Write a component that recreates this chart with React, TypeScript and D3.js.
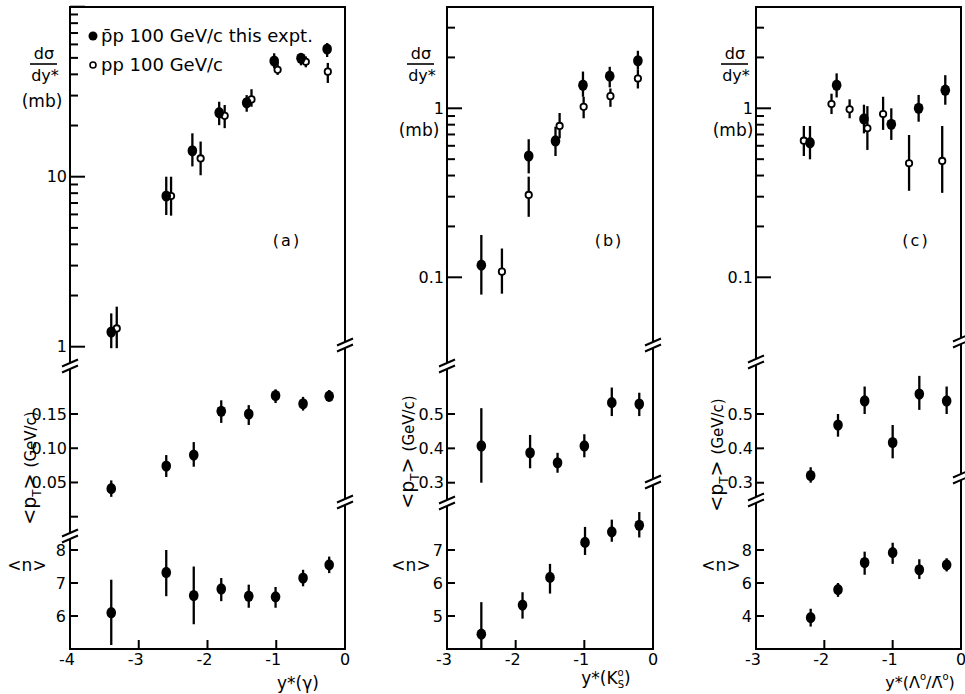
import React from "react";
import * as d3 from "d3";

// ---------------- data ----------------
// Panel (a): gamma
const aDsigFilledX = [-3.4, -2.6, -2.22, -1.83, -1.43, -1.03, -0.64, -0.26];
const aDsigFilledY = [1.22, 7.7, 14.2, 23.8, 27.2, 47.9, 49.7, 56.4];
const aDsigFilledLo = [0.98, 5.95, 11.5, 20.1, 24.1, 43.4, 45.2, 50.6];
const aDsigFilledHi = [1.57, 10.0, 18.0, 27.6, 30.2, 53.2, 53.2, 61.1];
const aDsigOpenX = [-3.32, -2.53, -2.1, -1.75, -1.36, -0.98, -0.57, -0.25];
const aDsigOpenY = [1.28, 7.7, 12.8, 22.8, 28.5, 42.5, 47.4, 41.5];
const aDsigOpenLo = [0.98, 5.9, 10.2, 19.3, 25.8, 39.7, 44.0, 35.6];
const aDsigOpenHi = [1.72, 10.0, 16.1, 26.4, 32.7, 47.4, 51.0, 46.7];
const aPtX = [-3.4, -2.6, -2.2, -1.8, -1.4, -1.01, -0.61, -0.23];
const aPtY = [0.041, 0.074, 0.09, 0.154, 0.15, 0.177, 0.165, 0.176];
const aPtLo = [0.029, 0.058, 0.073, 0.137, 0.134, 0.166, 0.155, 0.168];
const aPtHi = [0.053, 0.09, 0.109, 0.17, 0.163, 0.186, 0.175, 0.185];
const aNY = [6.1, 7.32, 6.62, 6.82, 6.6, 6.58, 7.15, 7.55];
const aNLo = [5.12, 6.6, 5.75, 6.45, 6.25, 6.25, 6.9, 7.3];
const aNHi = [7.1, 8.0, 7.5, 7.15, 6.95, 6.88, 7.4, 7.8];

// Panel (b): K0s
const bDsigFilledX = [-2.5, -1.81, -1.42, -1.02, -0.63, -0.22];
const bDsigFilledY = [0.118, 0.522, 0.641, 1.37, 1.55, 1.91];
const bDsigFilledLo = [0.079, 0.412, 0.522, 1.17, 1.33, 1.69];
const bDsigFilledHi = [0.178, 0.656, 0.778, 1.65, 1.76, 2.19];
const bDsigOpenX = [-2.2, -1.81, -1.36, -1.01, -0.62, -0.22];
const bDsigOpenY = [0.108, 0.307, 0.786, 1.02, 1.18, 1.5];
const bDsigOpenLo = [0.08, 0.228, 0.664, 0.873, 1.02, 1.31];
const bDsigOpenHi = [0.148, 0.394, 0.938, 1.17, 1.31, 1.69];
const bPtX = [-2.5, -1.79, -1.39, -1.0, -0.6, -0.2];
const bPtY = [0.407, 0.387, 0.358, 0.407, 0.533, 0.529];
const bPtLo = [0.3, 0.342, 0.329, 0.374, 0.494, 0.494];
const bPtHi = [0.517, 0.439, 0.387, 0.441, 0.577, 0.562];
const bNX = [-2.5, -1.9, -1.5, -0.99, -0.6, -0.2];
const bNY = [4.45, 5.33, 6.17, 7.23, 7.55, 7.75];
const bNLo = [4.02, 4.92, 5.68, 6.85, 7.25, 7.38];
const bNHi = [5.42, 5.72, 6.58, 7.7, 7.92, 8.15];

// Panel (c): Lambda / anti-Lambda
const cDsigFilledX = [-2.21, -1.82, -1.42, -1.02, -0.62, -0.23];
const cDsigFilledY = [0.626, 1.37, 0.865, 0.804, 1.0, 1.28];
const cDsigFilledLo = [0.499, 1.16, 0.711, 0.65, 0.833, 1.05];
const cDsigFilledHi = [0.786, 1.61, 1.05, 1.0, 1.2, 1.57];
const cDsigOpenX = [-2.3, -1.895, -1.63, -1.37, -1.14, -0.76, -0.275];
const cDsigOpenY = [0.643, 1.06, 0.986, 0.762, 0.925, 0.473, 0.488];
const cDsigOpenLo = [0.522, 0.925, 0.873, 0.567, 0.745, 0.325, 0.316];
const cDsigOpenHi = [0.786, 1.22, 1.13, 1.03, 1.17, 0.695, 0.786];
const cPtX = [-2.2, -1.8, -1.41, -1.0, -0.61, -0.21];
const cPtY = [0.321, 0.468, 0.538, 0.417, 0.558, 0.538];
const cPtLo = [0.3, 0.434, 0.5, 0.371, 0.512, 0.5];
const cPtHi = [0.345, 0.5, 0.58, 0.468, 0.611, 0.58];
const cNY = [3.9, 5.6, 7.24, 7.84, 6.8, 7.1];
const cNLo = [3.36, 5.16, 6.5, 7.16, 6.24, 6.7];
const cNHi = [4.44, 6.0, 7.9, 8.44, 7.44, 7.5];

// tick values
const aXTicks = [-4, -3, -2, -1, 0];
const bcXTicks = [-3, -2, -1, 0];
const aLogMajor = [1, 10, 100];
const aLogLabels = ["1", "10", ""];
const bcLogMajor = [0.1, 1];
const bcLogLabels = ["0.1", "1"];
const aPtTicks = [0, 0.05, 0.1, 0.15];
const aPtLabels = ["", "0.05", "0.10", "0.15"];
const bcPtTicks = [0.3, 0.4, 0.5];
const bcPtLabels = ["0.3", "0.4", "0.5"];
const aNTicks = [6, 7, 8];
const bNTicks = [5, 6, 7];
const cNTicks = [4, 6, 8];

// ---------------- layout ----------------
const FONT = "'DejaVu Sans', 'Liberation Sans', sans-serif";
const TOP = 7;
const BOTTOM = 649;

type Pts = { x: number[]; y: number[]; lo: number[]; hi: number[] };
const pts = (x: number[], y: number[], lo: number[], hi: number[]): Pts => ({ x, y, lo, hi });

function Marks({ p, sx, sy, open }: { p: Pts; sx: any; sy: any; open: boolean }) {
  return (
    <g>
      {p.x.map((xv, i) => {
        const cx = sx(xv);
        const cy = sy(p.y[i]);
        return (
          <g key={i}>
            <line x1={cx} x2={cx} y1={sy(p.lo[i])} y2={sy(p.hi[i])} stroke="#000" strokeWidth={2.3} />
            {open ? (
              <circle cx={cx} cy={cy} r={3.2} fill="#fff" stroke="#000" strokeWidth={1.8} />
            ) : (
              <ellipse cx={cx} cy={cy} rx={4.8} ry={5.6} fill="#000" />
            )}
          </g>
        );
      })}
    </g>
  );
}

function BreakMark({ x, y }: { x: number; y: number }) {
  return (
    <g stroke="#000" strokeWidth={2}>
      <line x1={x - 8} y1={y + 0.5} x2={x + 8} y2={y - 6.5} />
      <line x1={x - 8} y1={y + 6.5} x2={x + 8} y2={y - 0.5} />
    </g>
  );
}

function VAxis({ x, breaks }: { x: number; breaks: number[] }) {
  const ys = [TOP, ...breaks.flatMap((b) => [b - 3, b + 3]), BOTTOM];
  const segs: number[][] = [];
  for (let i = 0; i < ys.length; i += 2) segs.push([ys[i], ys[i + 1]]);
  return (
    <g>
      {segs.map((s, i) => (
        <line key={i} x1={x} x2={x} y1={s[0]} y2={s[1]} stroke="#000" strokeWidth={2} />
      ))}
      {breaks.map((b, i) => (
        <BreakMark key={"b" + i} x={x} y={b} />
      ))}
    </g>
  );
}

function DsigLabel({ cx, mbY }: { cx: number; mbY: number }) {
  return (
    <g fontFamily={FONT} fill="#000">
      <text x={cx} y={59} textAnchor="middle" fontSize={16}>dσ</text>
      <line x1={cx - 14} x2={cx + 13} y1={64} y2={64} stroke="#000" strokeWidth={1.6} />
      <text x={cx + 1} y={81} textAnchor="middle" fontSize={16}>dy*</text>
      <text x={cx - 2} y={mbY} textAnchor="middle" fontSize={17}>(mb)</text>
    </g>
  );
}

interface PanelCfg {
  x0: number;
  x1: number;
  xDomain: number[];
  xTicks: number[];
  logDomain: number[];
  logRange: number[];
  logMajor: number[];
  logLabels: string[];
  logMinor: number[];
  ptDomain: number[];
  ptRange: number[];
  ptTicks: number[];
  ptLabels: string[];
  nDomain: number[];
  nRange: number[];
  nTicks: number[];
  leftBreaks: number[];
  rightBreaks: number[];
  dsigFilled: Pts;
  dsigOpen: Pts;
  pt: Pts;
  n: Pts;
  dsigX: number;
  mbY: number;
  ptLabelX: number;
  ptLabelY: number;
  nLabelX: number;
  tag: string;
  tagX: number;
  title: React.ReactNode;
  titleX: number;
  titleY: number;
  titleSize: number;
}

function Panel({ c }: { c: PanelCfg }) {
  const sx = d3.scaleLinear().domain(c.xDomain).range([c.x0, c.x1]);
  const yl = d3.scaleLog().domain(c.logDomain).range(c.logRange);
  const yp = d3.scaleLinear().domain(c.ptDomain).range(c.ptRange);
  const yn = d3.scaleLinear().domain(c.nDomain).range(c.nRange);
  return (
    <g>
      {/* frame */}
      <line x1={c.x0 - 1} x2={c.x1 + 1} y1={TOP} y2={TOP} stroke="#000" strokeWidth={2} />
      <line x1={c.x0 - 1} x2={c.x1 + 1} y1={BOTTOM} y2={BOTTOM} stroke="#000" strokeWidth={2} />
      <VAxis x={c.x0} breaks={c.leftBreaks} />
      <VAxis x={c.x1} breaks={c.rightBreaks} />

      {/* x ticks */}
      {c.xTicks.map((t) => (
        <g key={"xt" + t}>
          {t !== c.xDomain[0] && t !== c.xDomain[1] && (
            <line x1={sx(t)} x2={sx(t)} y1={BOTTOM} y2={BOTTOM - 9} stroke="#000" strokeWidth={2} />
          )}
          <text x={sx(t) - (t < 0 ? 3 : 0)} y={665} textAnchor="middle" fontFamily={FONT} fontSize={16}>
            {t < 0 ? "-" + Math.abs(t) : String(t)}
          </text>
        </g>
      ))}

      {/* log section ticks */}
      {c.logMajor.map((t, i) => (
        <g key={"lm" + t}>
          <line x1={c.x0} x2={c.x0 + 15} y1={yl(t)} y2={yl(t)} stroke="#000" strokeWidth={2} />
          {c.logLabels[i] && (
            <text x={c.x0 - 3} y={yl(t)} dy="0.36em" textAnchor="end" fontFamily={FONT} fontSize={16}>
              {c.logLabels[i]}
            </text>
          )}
        </g>
      ))}
      {c.logMinor.map((t) => (
        <line key={"ln" + t} x1={c.x0} x2={c.x0 + 8} y1={yl(t)} y2={yl(t)} stroke="#000" strokeWidth={2} />
      ))}

      {/* pT section ticks */}
      {c.ptTicks.map((t, i) => (
        <g key={"pt" + t}>
          <line x1={c.x0} x2={c.x0 + 8} y1={yp(t)} y2={yp(t)} stroke="#000" strokeWidth={2} />
          {c.ptLabels[i] && (
            <text x={c.x0 - 3} y={yp(t)} dy="0.36em" textAnchor="end" fontFamily={FONT} fontSize={16}>
              {c.ptLabels[i]}
            </text>
          )}
        </g>
      ))}

      {/* n section ticks */}
      {c.nTicks.map((t) => (
        <g key={"nt" + t}>
          <line x1={c.x0} x2={c.x0 + 8} y1={yn(t)} y2={yn(t)} stroke="#000" strokeWidth={2} />
          <text x={c.x0 - 4} y={yn(t)} dy="0.36em" textAnchor="end" fontFamily={FONT} fontSize={16}>
            {t}
          </text>
        </g>
      ))}

      {/* data */}
      <Marks p={c.dsigOpen} sx={sx} sy={yl} open={true} />
      <Marks p={c.dsigFilled} sx={sx} sy={yl} open={false} />
      <Marks p={c.pt} sx={sx} sy={yp} open={false} />
      <Marks p={c.n} sx={sx} sy={yn} open={false} />

      {/* labels */}
      <DsigLabel cx={c.dsigX} mbY={c.mbY} />
      <text
        transform={`translate(${c.ptLabelX},${c.ptLabelY}) rotate(-90)`}
        textAnchor="middle"
        fontFamily={FONT}
        fontSize={19}
      >
        {"<p"}
        <tspan fontSize={12} dy={5}>T</tspan>
        <tspan dy={-5}>{"> "}</tspan>
        <tspan fontSize={15}>(GeV/c)</tspan>
      </text>
      <text x={c.nLabelX} y={571} textAnchor="middle" fontFamily={FONT} fontSize={17}>
        {"<n>"}
      </text>
      <text x={c.tagX} y={246} textAnchor="middle" fontFamily={FONT} fontSize={16} letterSpacing={2}>
        {c.tag}
      </text>
      <text x={c.titleX} y={c.titleY} textAnchor="middle" fontFamily={FONT} fontSize={c.titleSize}>
        {c.title}
      </text>
    </g>
  );
}

const minorDecade = (base: number) => d3.range(2, 10).map((k) => k * base);

const panelA: PanelCfg = {
  x0: 70,
  x1: 345,
  xDomain: [-4, 0],
  xTicks: aXTicks,
  logDomain: [1, 10],
  logRange: [346.7, 176.7],
  logMajor: aLogMajor,
  logLabels: aLogLabels,
  logMinor: [...minorDecade(1), ...minorDecade(10)],
  ptDomain: [0, 0.15],
  ptRange: [516.7, 414],
  ptTicks: aPtTicks,
  ptLabels: aPtLabels,
  nDomain: [5, 8],
  nRange: [649, 550],
  nTicks: aNTicks,
  leftBreaks: [366, 536],
  rightBreaks: [345, 502],
  dsigFilled: pts(aDsigFilledX, aDsigFilledY, aDsigFilledLo, aDsigFilledHi),
  dsigOpen: pts(aDsigOpenX, aDsigOpenY, aDsigOpenLo, aDsigOpenHi),
  pt: pts(aPtX, aPtY, aPtLo, aPtHi),
  n: pts(aPtX, aNY, aNLo, aNHi),
  dsigX: 44,
  mbY: 107,
  ptLabelX: 36,
  ptLabelY: 468,
  nLabelX: 27,
  tag: "(a)",
  tagX: 287,
  title: <>{"y*(γ)"}</>,
  titleX: 298,
  titleY: 689,
  titleSize: 17,
};

const panelB: PanelCfg = {
  x0: 447,
  x1: 653,
  xDomain: [-3, 0],
  xTicks: bcXTicks,
  logDomain: [0.1, 1],
  logRange: [277.3, 108.3],
  logMajor: bcLogMajor,
  logLabels: bcLogLabels,
  logMinor: [...minorDecade(0.1), 2, 3],
  ptDomain: [0.3, 0.5],
  ptRange: [482.7, 414],
  ptTicks: bcPtTicks,
  ptLabels: bcPtLabels,
  nDomain: [4, 7],
  nRange: [649, 550],
  nTicks: bNTicks,
  leftBreaks: [366, 503],
  rightBreaks: [345, 482],
  dsigFilled: pts(bDsigFilledX, bDsigFilledY, bDsigFilledLo, bDsigFilledHi),
  dsigOpen: pts(bDsigOpenX, bDsigOpenY, bDsigOpenLo, bDsigOpenHi),
  pt: pts(bPtX, bPtY, bPtLo, bPtHi),
  n: pts(bNX, bNY, bNLo, bNHi),
  dsigX: 421,
  mbY: 136,
  ptLabelX: 414,
  ptLabelY: 452,
  nLabelX: 411,
  tag: "(b)",
  tagX: 609,
  title: (
    <>
      {"y*(K"}
      <tspan fontSize={10} dy={-8}>o</tspan>
      <tspan fontSize={10} dx={-6} dy={12}>S</tspan>
      <tspan dy={-4}>)</tspan>
    </>
  ),
  titleX: 606,
  titleY: 684,
  titleSize: 17,
};

const panelC: PanelCfg = {
  x0: 756,
  x1: 961,
  xDomain: [-3, 0],
  xTicks: bcXTicks,
  logDomain: [0.1, 1],
  logRange: [277.3, 108.3],
  logMajor: bcLogMajor,
  logLabels: bcLogLabels,
  logMinor: [...minorDecade(0.1), 2, 3],
  ptDomain: [0.3, 0.5],
  ptRange: [482.7, 414],
  ptTicks: bcPtTicks,
  ptLabels: bcPtLabels,
  nDomain: [2, 8],
  nRange: [649, 550],
  nTicks: cNTicks,
  leftBreaks: [362, 500],
  rightBreaks: [341, 477],
  dsigFilled: pts(cDsigFilledX, cDsigFilledY, cDsigFilledLo, cDsigFilledHi),
  dsigOpen: pts(cDsigOpenX, cDsigOpenY, cDsigOpenLo, cDsigOpenHi),
  pt: pts(cPtX, cPtY, cPtLo, cPtHi),
  n: pts(cPtX, cNY, cNLo, cNHi),
  dsigX: 735,
  mbY: 136,
  ptLabelX: 723,
  ptLabelY: 455,
  nLabelX: 721,
  tag: "(c)",
  tagX: 916,
  title: (
    <>
      {"y*(Λ"}
      <tspan fontSize={10} dy={-8}>o</tspan>
      <tspan dy={8}>{"/Λ̄"}</tspan>
      <tspan fontSize={10} dy={-8}>o</tspan>
      <tspan dy={8}>)</tspan>
    </>
  ),
  titleX: 920,
  titleY: 688,
  titleSize: 16,
};

export default function App() {
  return (
    <svg
      width={965}
      height={694}
      style={{ position: "absolute", left: 0, top: 0, background: "#fff" }}
      fontFamily={FONT}
    >
      <rect x={0} y={0} width={965} height={694} fill="#fff" />
      <Panel c={panelA} />
      <Panel c={panelB} />
      <Panel c={panelC} />
      {/* legend */}
      <g fontFamily={FONT} fontSize={18}>
        <circle cx={93} cy={36} r={4.5} fill="#000" />
        <text x={101} y={42}>p̄p 100 GeV/c this expt.</text>
        <circle cx={93} cy={65} r={3} fill="#fff" stroke="#000" strokeWidth={1.6} />
        <text x={101} y={71}>pp 100 GeV/c</text>
      </g>
    </svg>
  );
}
